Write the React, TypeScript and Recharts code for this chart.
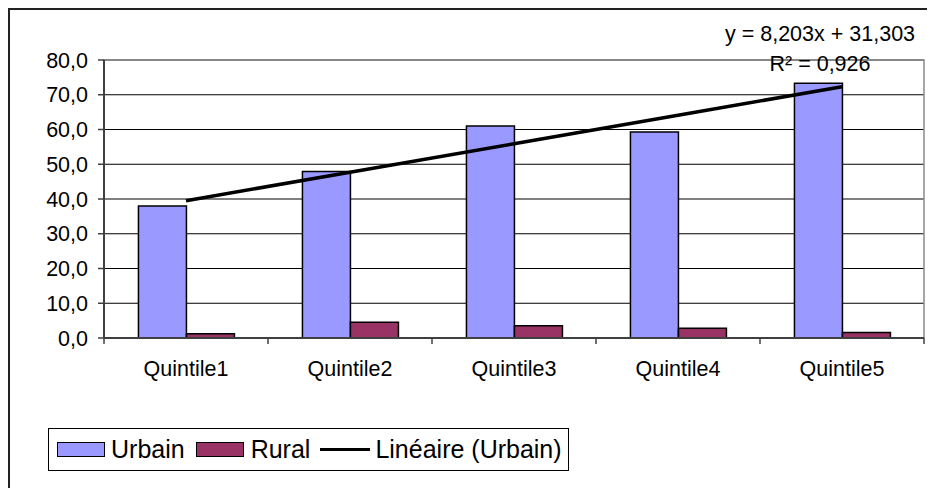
import { Bar, CartesianGrid, ComposedChart, Line, ReferenceArea, XAxis, YAxis } from "recharts";

const quintiles = ["Quintile1", "Quintile2", "Quintile3", "Quintile4", "Quintile5"];
const urbain = [38.0, 47.9, 61.0, 59.3, 73.3];
const rural = [1.2, 4.5, 3.5, 2.8, 1.6];
const yTicks = [0, 10, 20, 30, 40, 50, 60, 70, 80];
// trend line as printed on the chart
const slope = 8.203;
const intercept = 31.303;
const r2 = 0.926;

const fr = (v: number, d: number) => v.toFixed(d).replace(".", ",");

const data = quintiles.map((q, i) => ({
  q,
  urbain: urbain[i],
  rural: rural[i],
  trend: slope * (i + 1) + intercept,
}));

const FONT = "'Liberation Sans', Arial, sans-serif";
const AXIS = "#404040";

function QuintileTick(props: any) {
  const { x, y, payload, index, visibleTicksCount, width } = props;
  const half = payload.offset || width / visibleTicksCount / 2;
  const last = index === visibleTicksCount - 1;
  return (
    <g>
      <line x1={x - half} x2={x - half} y1={y - 6} y2={y} stroke={AXIS} strokeWidth={1.5} />
      {last && <line x1={x + half} x2={x + half} y1={y - 6} y2={y} stroke={AXIS} strokeWidth={1.5} />}
      <text x={x} y={y + 32} textAnchor="middle" fontSize={21.5} fontFamily={FONT} fill="#000">
        {payload.value}
      </text>
    </g>
  );
}

function Swatch({ color }: { color: string }) {
  return <span style={{ display: "inline-block", width: 46, height: 13, background: color, border: "1.5px solid #000" }} />;
}

export default function App() {
  return (
    <div style={{ position: "relative", width: 927, height: 480, overflow: "hidden", fontFamily: FONT }}>
      <div
        style={{
          position: "absolute",
          left: 0,
          top: 0,
          width: 940,
          height: 490,
          borderLeft: "2px solid #222",
          borderTop: "2px solid #222",
        }}
      />
      <ComposedChart
        width={927}
        height={480}
        data={data}
        margin={{ top: 52, right: 11, left: 0, bottom: 110 }}
        barCategoryGap="21%"
        barGap={0}
      >
        <CartesianGrid vertical={false} stroke="#000" strokeWidth={1} />
        <ReferenceArea y1={0} y2={80} fill="none" stroke="#8a8a8a" strokeWidth={1.5} />
        <XAxis
          dataKey="q"
          height={40}
          tickSize={6}
          tickMargin={0}
          tickLine={false}
          axisLine={{ stroke: AXIS, strokeWidth: 2 }}
          interval={0}
          tick={<QuintileTick />}
        />
        <YAxis
          width={96}
          domain={[0, 80]}
          ticks={yTicks}
          interval={0}
          tickSize={6}
          tickMargin={10}
          tickLine={{ stroke: AXIS, strokeWidth: 1.5 }}
          axisLine={{ stroke: AXIS, strokeWidth: 2 }}
          tick={{ fontSize: 21.5, fontFamily: FONT, fill: "#000" }}
          tickFormatter={(v: number) => fr(v, 1)}
        />
        <Bar dataKey="urbain" fill="#9999FF" stroke="#000" strokeWidth={1.5} isAnimationActive={false} />
        <Bar dataKey="rural" fill="#993366" stroke="#000" strokeWidth={1.5} isAnimationActive={false} />
        <Line dataKey="trend" stroke="#000" strokeWidth={3.5} dot={false} isAnimationActive={false} />
      </ComposedChart>

      <div
        style={{
          position: "absolute",
          left: 716,
          width: 192,
          top: 11,
          fontSize: 21.5,
          lineHeight: "30px",
          textAlign: "center",
          whiteSpace: "nowrap",
        }}
      >
        <div>y = {fr(slope, 3)}x + {fr(intercept, 3)}</div>
        <div>R² = {fr(r2, 3)}</div>
      </div>

      <div
        style={{
          position: "absolute",
          left: 40,
          top: 420,
          width: 521,
          height: 43,
          border: "1px solid #000",
          display: "flex",
          alignItems: "center",
          fontSize: 25,
          boxSizing: "border-box",
          paddingLeft: 8,
          whiteSpace: "nowrap",
        }}
      >
        <Swatch color="#9999FF" />
        <span style={{ marginLeft: 6 }}>Urbain</span>
        <span style={{ marginLeft: 11, display: "flex" }}>
          <Swatch color="#993366" />
        </span>
        <span style={{ marginLeft: 7 }}>Rural</span>
        <span style={{ marginLeft: 10, display: "inline-block", width: 50, height: 3, background: "#000" }} />
        <span style={{ marginLeft: 5 }}>Linéaire (Urbain)</span>
      </div>
    </div>
  );
}
